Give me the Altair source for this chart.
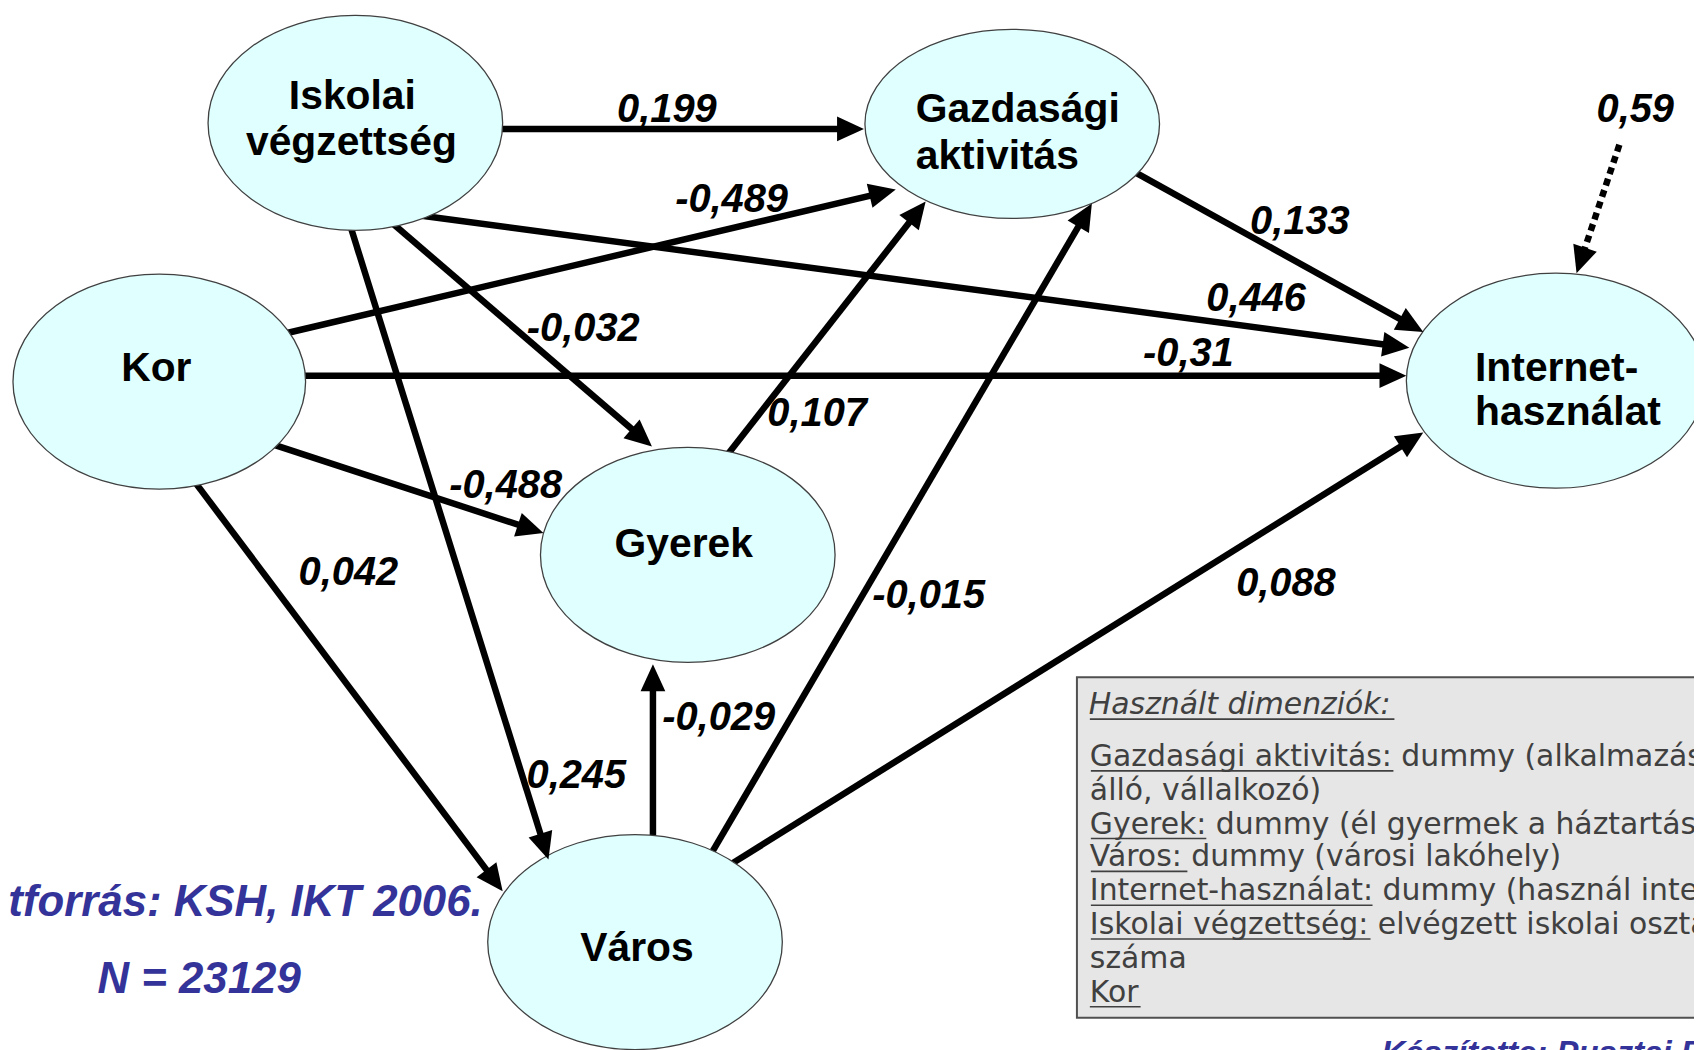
import numpy as np
import pandas as pd
import altair as alt

# ---------------- nodes (ellipses) ----------------
node_names = ["Iskolai végzettség", "Gazdasági aktivitás", "Kor", "Gyerek", "Város", "Internet-használat"]
node_cx = [357, 1017, 160, 691, 638, 1563]
node_cy = [121, 122, 381, 555, 944, 380]
node_rx = [148, 148, 147, 148, 148, 150]
node_ry = [108, 95, 108, 108, 108, 108]

# node captions
cap_center = ["Iskolai", "végzettség", "Kor", "Gyerek", "Város"]
cap_center_x = [354, 353, 157, 687, 640]
cap_center_y = [107, 153, 380, 557, 963]
cap_left = ["Gazdasági", "aktivitás", "Internet-", "használat"]
cap_left_x = [920, 920, 1482, 1482]
cap_left_y = [120, 167, 380, 425]

# ---------------- paths (arrows) ----------------
edge_from = ["Iskolai végzettség", "Kor", "Iskolai végzettség", "Kor", "Gazdasági aktivitás",
             "Iskolai végzettség", "Iskolai végzettség", "Kor", "Kor", "Gyerek", "Város", "Város", "Város"]
edge_to = ["Gazdasági aktivitás", "Gazdasági aktivitás", "Internet-használat", "Internet-használat",
           "Internet-használat", "Gyerek", "Város", "Gyerek", "Város", "Gazdasági aktivitás",
           "Gazdasági aktivitás", "Internet-használat", "Gyerek"]
edge_coef = ["0,199", "-0,489", "0,446", "-0,31", "0,133", "-0,032", "0,245", "-0,488", "0,042",
             "0,107", "-0,015", "0,088", "-0,029"]
edge_x0 = [506, 293, 430, 308, 1143, 398, 354, 280, 202, 735, 717, 734, 656]
edge_y0 = [127, 331, 215, 375, 172, 225, 231, 446, 490, 449, 851, 866, 838]
edge_x1 = [868, 900, 1416, 1413, 1430, 655, 551, 546, 505, 930, 1097, 1430, 656]
edge_y1 = [127, 188, 347, 375, 331, 446, 861, 533, 893, 200, 202, 432, 665]
edge_lx = [670, 735, 1262, 1194, 1306, 586, 579, 508, 350, 821, 933, 1292, 722]
edge_ly = [108, 198, 298, 353, 221, 328, 777, 486, 573, 414, 596, 584, 719]

# residual (error term) arrow
resid_coef = ["0,59"]
resid_x0 = [1627]
resid_y0 = [143]
resid_x1 = [1584]
resid_y1 = [272]
resid_lx = [1643]
resid_ly = [108]

# ---------------- legend box ----------------
legend_title = ["Használt dimenziók:"]
legend_title_y = [715]
legend_lines = ["Gazdasági aktivitás: dummy (alkalmazásban",
                "álló, vállalkozó)",
                "Gyerek: dummy (él gyermek a háztartásban)",
                "Város: dummy (városi lakóhely)",
                "Internet-használat: dummy (használ internetet)",
                "Iskolai végzettség: elvégzett iskolai osztályok",
                "száma",
                "Kor"]
legend_line_y = [767, 801, 835, 868, 902, 936, 970, 1004]
underline_x0 = [1095, 1096, 1096, 1096, 1096, 1096, 1095]
underline_x1 = [1401, 1400, 1212, 1193, 1379, 1377, 1146]
underline_y = [720, 772, 840, 873, 907, 941, 1009]
box_x = [1082]
box_x2 = [1730]
box_y = [678]
box_y2 = [1020]

# ---------------- source notes ----------------
note_right = ["Adatforrás: KSH, IKT 2006."]
note_right_x = [485]
note_right_y = [918]
note_n = ["N = 23129"]
note_n_x = [200]
note_n_y = [995]
note_author = ["Készítette: Pusztai B."]
note_author_x = [1388]
note_author_y = [1067]

# ---------------- build tables ----------------
W, H = 1694, 1042
xs = alt.Scale(domain=[8, 1702], nice=False, zero=False)
ys = alt.Scale(domain=[8, 1050], nice=False, zero=False, reverse=True)
X = lambda f="x": alt.X(f + ":Q", scale=xs, axis=None)
Y = lambda f="y": alt.Y(f + ":Q", scale=ys, axis=None)


def segments(x0, y0, x1, y1, back=8.0, head=14.0):
    x0, y0, x1, y1 = map(lambda a: np.asarray(a, float), (x0, y0, x1, y1))
    dx, dy = x1 - x0, y1 - y0
    L = np.hypot(dx, dy)
    ux, uy = dx / L, dy / L
    ang = (np.degrees(np.arctan2(dx, -dy)) + 360.0) % 360.0
    return pd.DataFrame({
        "x": x0 - back * ux, "y": y0 - back * uy,
        "x2": x1 - head * ux, "y2": y1 - head * uy,
        "tx": x1, "ty": y1, "angle": ang,
    })


edges = segments(edge_x0, edge_y0, edge_x1, edge_y1)
edges["from"] = edge_from
edges["to"] = edge_to
resid = segments(resid_x0, resid_y0, resid_x1, resid_y1, back=0.0)
heads = pd.concat([edges[["tx", "ty", "angle"]], resid[["tx", "ty", "angle"]]], ignore_index=True)

nodes = pd.DataFrame({"name": node_names, "x": node_cx, "y": node_cy})
nodes["shape"] = [
    f"M -1 0 A 1 {ry / rx:.4f} 0 1 1 1 0 A 1 {ry / rx:.4f} 0 1 1 -1 0 Z"
    for rx, ry in zip(node_rx, node_ry)
]
nodes["size"] = [(2 * rx) ** 2 for rx in node_rx]

lines = alt.Chart(edges).mark_rule(color="black", strokeWidth=6.5).encode(
    x=X(), y=Y(), x2="x2:Q", y2="y2:Q")
dashed = alt.Chart(resid).mark_rule(color="black", strokeWidth=6.5, strokeDash=[7, 5]).encode(
    x=X(), y=Y(), x2="x2:Q", y2="y2:Q")

ellipses = alt.Chart(nodes).mark_point(filled=True, opacity=1, strokeWidth=1.3).encode(
    x=X(), y=Y(),
    shape=alt.Shape("shape:N", scale=None),
    size=alt.Size("size:Q", scale=None),
    fill=alt.value("#e0ffff"),
    stroke=alt.value("#404040"),
)

arrowheads = alt.Chart(heads).mark_point(filled=True, opacity=1).encode(
    x=X("tx"), y=Y("ty"),
    angle=alt.Angle("angle:Q", scale=None),
    shape=alt.value("M 0 0 L -0.46 1 L 0.46 1 Z"),
    size=alt.value(2916),
    fill=alt.value("black"),
)

cap_c = alt.Chart(pd.DataFrame({"t": cap_center, "x": cap_center_x, "y": cap_center_y})).mark_text(
    font="Liberation Sans", fontSize=41, fontWeight="bold", align="center", baseline="alphabetic",
    color="black").encode(x=X(), y=Y(), text="t:N")
cap_l = alt.Chart(pd.DataFrame({"t": cap_left, "x": cap_left_x, "y": cap_left_y})).mark_text(
    font="Liberation Sans", fontSize=41, fontWeight="bold", align="left", baseline="alphabetic",
    color="black").encode(x=X(), y=Y(), text="t:N")

coef_df = pd.DataFrame({"t": edge_coef + resid_coef, "x": edge_lx + resid_lx, "y": edge_ly + resid_ly})
coefs = alt.Chart(coef_df).mark_text(
    font="Liberation Sans", fontSize=40, fontWeight="bold", fontStyle="italic", align="center",
    baseline="middle", color="black").encode(x=X(), y=Y(), text="t:N")

box = alt.Chart(pd.DataFrame({"x": box_x, "x2": box_x2, "y": box_y, "y2": box_y2})).mark_rect(
    fill="#e6e6e6", stroke="#505050", strokeWidth=2).encode(x=X(), y=Y(), x2="x2:Q", y2="y2:Q")

leg_title = alt.Chart(pd.DataFrame({"t": legend_title, "x": [1094], "y": legend_title_y})).mark_text(
    font="DejaVu Sans", fontSize=30, fontStyle="italic", align="left", baseline="alphabetic",
    color="#404040").encode(x=X(), y=Y(), text="t:N")
leg_lines = alt.Chart(pd.DataFrame({"t": legend_lines, "x": [1095] * len(legend_lines),
                                    "y": legend_line_y})).mark_text(
    font="DejaVu Sans", fontSize=30, align="left", baseline="alphabetic",
    color="#404040").encode(x=X(), y=Y(), text="t:N")
underlines = alt.Chart(pd.DataFrame({"x": underline_x0, "x2": underline_x1, "y": underline_y})).mark_rule(
    color="#404040", strokeWidth=1.6).encode(x=X(), y=Y(), x2="x2:Q")

blue = dict(font="Liberation Sans", fontWeight="bold", fontStyle="italic", color="#333399",
            baseline="alphabetic")
src = alt.Chart(pd.DataFrame({"t": note_right, "x": note_right_x, "y": note_right_y})).mark_text(
    fontSize=44, align="right", **blue).encode(x=X(), y=Y(), text="t:N")
nn = alt.Chart(pd.DataFrame({"t": note_n, "x": note_n_x, "y": note_n_y})).mark_text(
    fontSize=44, align="center", **blue).encode(x=X(), y=Y(), text="t:N")
author = alt.Chart(pd.DataFrame({"t": note_author, "x": note_author_x, "y": note_author_y})).mark_text(
    fontSize=33, align="left", **blue).encode(x=X(), y=Y(), text="t:N")

chart = alt.layer(
    lines, dashed, ellipses, arrowheads, cap_c, cap_l, coefs,
    box, underlines, leg_title, leg_lines, src, nn, author,
).properties(
    width=W, height=H,
    autosize=alt.AutoSizeParams(type="none"),
    padding=0,
    background="white",
).configure_view(strokeWidth=0)

chart.save("out.html", embed_options={"renderer": "svg", "actions": False})
